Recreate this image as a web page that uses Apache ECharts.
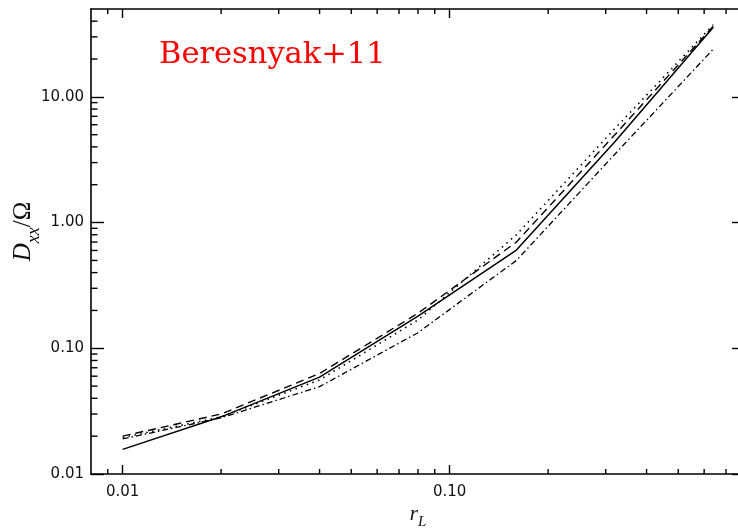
<!DOCTYPE html>
<html>
<head>
<meta charset="utf-8">
<script src="https://cdn.jsdelivr.net/npm/echarts@6/dist/echarts.min.js"></script>
<style>
html, body { margin: 0; padding: 0; background: #fff; }
#main { width: 738px; height: 530px; }
</style>
</head>
<body>
<div id="main"></div>
<script>
// r_L sample points and the four curves
var rL      = [0.01,   0.02,   0.04,   0.08,  0.16,  0.32, 0.64];
var solid   = [0.0157, 0.0285, 0.059,  0.180, 0.605, 4.4,  35.8];
var dashed  = [0.0200, 0.0300, 0.063,  0.190, 0.70,  5.0,  36.5];
var dotted  = [0.0195, 0.0285, 0.056,  0.168, 0.80,  5.6,  37.5];
var dashDot = [0.0190, 0.0280, 0.0495, 0.133, 0.50,  3.5,  24.0];

// axis ranges and tick values
var xRange = [0.008, 0.8];
var yRange = [0.01, 50];
var xMajor = [0.01, 0.1];
var xMinor = [0.009, 0.02, 0.03, 0.04, 0.05, 0.06, 0.07, 0.08, 0.09,
              0.2, 0.3, 0.4, 0.5, 0.6, 0.7];
var yMajor = [0.01, 0.1, 1, 10];
var yMinor = [0.02, 0.03, 0.04, 0.05, 0.06, 0.07, 0.08, 0.09,
              0.2, 0.3, 0.4, 0.5, 0.6, 0.7, 0.8, 0.9,
              2, 3, 4, 5, 6, 7, 8, 9, 20, 30, 40];

var labelFont = 'DejaVu Sans';
var axisColor = '#000';

function pairs(ys) {
  return rL.map(function (x, i) { return [x, ys[i]]; });
}

function logAxis(range, pos, ticks, len, withLabels) {
  return {
    type: 'log',
    logBase: 10,
    position: pos,
    min: range[0],
    max: range[1],
    nameMoveOverlap: false,
    axisLine: { show: true, onZero: false, lineStyle: { color: axisColor, width: 1.6 } },
    axisTick: { show: true, inside: true, length: len, customValues: ticks,
                lineStyle: { color: axisColor, width: 1.4 } },
    axisLabel: withLabels ? {
      show: true, customValues: ticks, color: '#111', fontFamily: labelFont, fontSize: 15,
      margin: (pos === 'bottom' ? 11 : 7),
      formatter: function (v) { return Number(v).toFixed(2); }
    } : { show: false },
    splitLine: { show: false },
    minorTick: { show: false },
    minorSplitLine: { show: false }
  };
}

var xAxes = [
  logAxis(xRange, 'bottom', xMajor, 9, true),
  logAxis(xRange, 'top', xMajor, 9, false)
];
xAxes[0].name = '{i|r}{s|L}';
xAxes[0].nameLocation = 'middle';
xAxes[0].nameGap = 30;
xAxes[0].nameTextStyle = {
  rich: {
    i: { fontFamily: 'Liberation Serif', fontStyle: 'italic', fontSize: 21, color: '#111', lineHeight: 26, verticalAlign: 'top' },
    s: { fontFamily: 'Liberation Serif', fontStyle: 'italic', fontSize: 15, color: '#111', lineHeight: 26, verticalAlign: 'bottom' }
  }
};

var yAxes = [
  logAxis(yRange, 'left', yMajor, 13, true),
  logAxis(yRange, 'right', yMajor, 13, false)
];
yAxes[0].name = '{i|D}{s|xx}{n|/Ω}';
yAxes[0].nameLocation = 'middle';
yAxes[0].nameGap = 48;
yAxes[0].nameTextStyle = {
  padding: [0, 0, 0, 20],
  rich: {
    i: { fontFamily: 'Liberation Serif', fontStyle: 'italic', fontSize: 25, color: '#111', lineHeight: 32, verticalAlign: 'top' },
    s: { fontFamily: 'Liberation Serif', fontStyle: 'italic', fontSize: 18, color: '#111', lineHeight: 32, verticalAlign: 'bottom' },
    n: { fontFamily: 'Liberation Serif', fontSize: 25, color: '#111', lineHeight: 32, verticalAlign: 'top' }
  }
};

function line(name, ys, type, width) {
  return {
    name: name,
    type: 'line',
    xAxisIndex: 0,
    yAxisIndex: 0,
    data: pairs(ys),
    symbol: 'none',
    silent: true,
    lineStyle: { color: '#000', width: width, type: type }
  };
}

// short minor ticks: thin rect symbols sitting on the frame, pushed inward
function tickMarks(vals, side, len) {
  var isX = side === 'bottom' || side === 'top';
  var data = vals.map(function (v) {
    if (side === 'bottom') return [v, yRange[0]];
    if (side === 'top') return [v, yRange[1]];
    if (side === 'left') return [xRange[0], v];
    return [xRange[1], v];
  });
  var off = { bottom: [0, -len / 2], top: [0, len / 2], left: [len / 2, 0], right: [-len / 2, 0] }[side];
  return {
    type: 'scatter',
    xAxisIndex: 0,
    yAxisIndex: 0,
    silent: true,
    clip: false,
    symbol: 'rect',
    symbolSize: isX ? [1.4, len] : [len, 1.4],
    symbolOffset: off,
    itemStyle: { color: axisColor, opacity: 1 },
    data: data
  };
}

var myChart = echarts.init(document.getElementById('main'));
myChart.setOption({
  animation: false,
  backgroundColor: '#fff',
  title: {
    text: 'Beresnyak+11',
    left: 159,
    top: 40,
    padding: 0,
    textStyle: { color: '#ff0000', fontFamily: 'DejaVu Serif', fontWeight: 'normal', fontSize: 30.5 }
  },
  grid: { left: 91, right: -7, top: 9, bottom: 56, containLabel: false, outerBoundsMode: 'none' },
  xAxis: xAxes,
  yAxis: yAxes,
  series: [
    tickMarks(xMinor, 'bottom', 5),
    tickMarks(xMinor, 'top', 5),
    tickMarks(yMinor, 'left', 6.5),
    tickMarks(yMinor, 'right', 6.5),
    line('solid', solid, 'solid', 1.5),
    line('dashed', dashed, [8, 5], 1.4),
    line('dotted', dotted, [1.5, 4.5], 1.6),
    line('dash-dot', dashDot, [6, 3, 1.5, 3], 1.3)
  ]
});
</script>
</body>
</html>
